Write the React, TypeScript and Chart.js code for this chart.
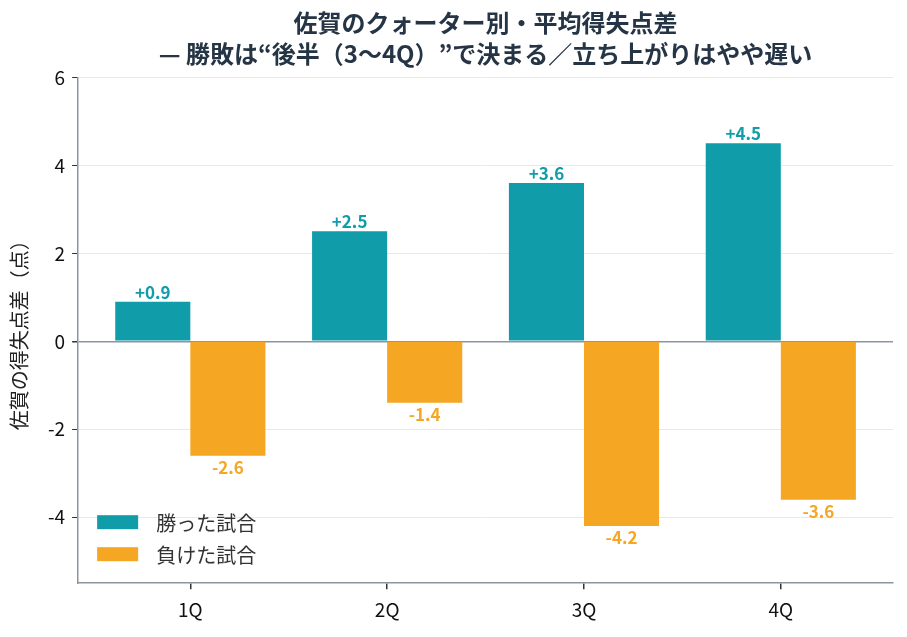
import { useEffect, useRef } from "react";
import { Chart, registerables, Plugin } from "chart.js";

Chart.register(...registerables);

const quarters = ["1Q", "2Q", "3Q", "4Q"];
const winDiffs = [0.9, 2.5, 3.6, 4.5];
const lossDiffs = [-2.6, -1.4, -4.2, -3.6];
const seriesNames = ["勝った試合", "負けた試合"];
const yTicks = [-4, -2, 0, 2, 4, 6];

const TEAL = "#109CA8";
const ORANGE = "#F5A623";
const AXIS = "#8A96A2";
const FONT = "'Noto Sans CJK JP', 'Noto Sans', sans-serif";

// value labels above / below each bar
const valueLabels: Plugin<"bar"> = {
  id: "valueLabels",
  afterDatasetsDraw(chart) {
    const ctx = chart.ctx;
    ctx.save();
    ctx.font = `bold 17px ${FONT}`;
    ctx.textAlign = "center";
    chart.data.datasets.forEach((ds, i) => {
      const meta = chart.getDatasetMeta(i);
      meta.data.forEach((bar: any, j) => {
        const v = (ds.data[j] as any).y as number;
        ctx.fillStyle = i === 0 ? TEAL : ORANGE;
        if (v >= 0) {
          ctx.textBaseline = "bottom";
          ctx.fillText(`+${v.toFixed(1)}`, bar.x, bar.y - 1);
        } else {
          ctx.textBaseline = "top";
          ctx.fillText(v.toFixed(1), bar.x, bar.y + 3);
        }
      });
    });
    ctx.restore();
  },
};

// legend drawn inside the plot, lower left
const innerLegend: Plugin<"bar"> = {
  id: "innerLegend",
  afterDraw(chart) {
    const { ctx, chartArea } = chart;
    ctx.save();
    ctx.font = `20px ${FONT}`;
    ctx.textBaseline = "middle";
    ctx.textAlign = "left";
    chart.data.datasets.forEach((ds, i) => {
      const y = chartArea.bottom - 61 + i * 32;
      ctx.fillStyle = ds.backgroundColor as string;
      ctx.fillRect(chartArea.left + 19, y - 7, 41, 14);
      ctx.fillStyle = "#333333";
      ctx.fillText(ds.label as string, chartArea.left + 78, y + 1);
    });
    ctx.restore();
  },
};

export default function App() {
  const canvasRef = useRef<HTMLCanvasElement>(null);
  const chartRef = useRef<Chart | null>(null);

  useEffect(() => {
    document.body.style.margin = "0";
    if (!canvasRef.current) return;
    if (chartRef.current) chartRef.current.destroy();

    chartRef.current = new Chart(canvasRef.current, {
      type: "bar",
      data: {
        datasets: [
          {
            label: seriesNames[0],
            data: winDiffs.map((y, i) => ({ x: i, y })),
            backgroundColor: TEAL,
          },
          {
            label: seriesNames[1],
            data: lossDiffs.map((y, i) => ({ x: i, y })),
            backgroundColor: ORANGE,
          },
        ],
      },
      options: {
        animation: false,
        responsive: true,
        maintainAspectRatio: false,
        layout: { padding: { left: 7, right: 14, top: 6, bottom: 7 } },
        datasets: { bar: { categoryPercentage: 0.763, barPercentage: 1 } },
        plugins: {
          legend: { display: false },
          tooltip: { enabled: false },
          title: {
            display: true,
            fullSize: false,
            text: [
              "佐賀のクォーター別・平均得失点差",
              "— 勝敗は“後半（3〜4Q）”で決まる／立ち上がりはやや遅い",
            ],
            color: "#263545",
            font: { family: FONT, size: 24, weight: "bold", lineHeight: 1.3 },
            padding: { top: 1, bottom: 8 },
          },
        },
        scales: {
          x: {
            type: "linear",
            z: 1,
            min: -0.57,
            max: 3.57,
            offset: false,
            afterBuildTicks: (axis) => {
              axis.ticks = quarters.map((_, i) => ({ value: i }));
            },
            grid: {
              display: true,
              offset: false,
              drawOnChartArea: false,
              color: "#333",
              lineWidth: 1.5,
              tickLength: 6,
            },
            border: { color: AXIS, width: 1.5 },
            ticks: {
              color: "#111",
              font: { family: FONT, size: 19 },
              padding: 9,
              callback: (v) => quarters[Number(v)] ?? "",
            },
          },
          y: {
            z: 1,
            min: -5.5,
            max: 6,
            grid: {
              color: (c) => (c.tick && c.tick.value === 0 ? AXIS : "rgba(200,200,200,0.4)"),
              lineWidth: (c) => (c.tick && c.tick.value === 0 ? 1.5 : 1),
              tickColor: "#333",
              tickLength: 6,
            },
            border: { color: AXIS, width: 1.5 },
            ticks: {
              color: "#111",
              font: { family: FONT, size: 19 },
              padding: 7,
              callback: (v) => String(v),
            },
            afterBuildTicks: (axis) => {
              axis.ticks = yTicks.map((v) => ({ value: v }));
            },
            title: {
              display: true,
              text: "佐賀の得失点差（点）",
              color: "#222",
              font: { family: FONT, size: 20 },
              padding: { top: 0, bottom: 10 },
            },
          },
        },
      },
      plugins: [valueLabels, innerLegend],
    });

    return () => {
      chartRef.current?.destroy();
      chartRef.current = null;
    };
  }, []);

  return (
    <div style={{ width: 907, height: 637, position: "relative", background: "#fff" }}>
      <canvas ref={canvasRef} />
    </div>
  );
}
